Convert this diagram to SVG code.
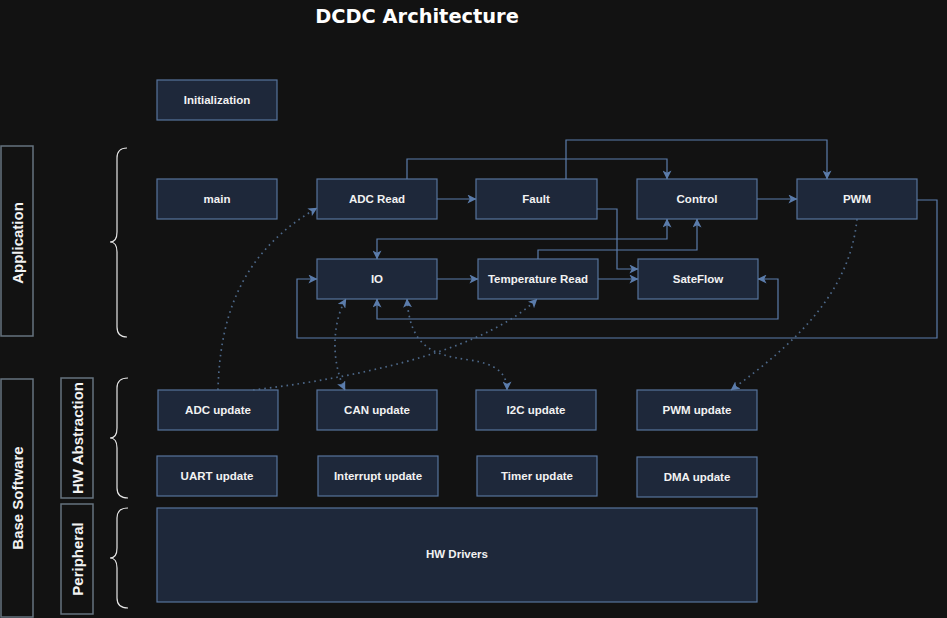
<svg xmlns="http://www.w3.org/2000/svg" width="947" height="618" viewBox="0 0 947 618">
<defs>
<marker id="arr" viewBox="0 0 10 10" refX="9.5" refY="5" markerWidth="9" markerHeight="9" markerUnits="userSpaceOnUse" orient="auto-start-reverse">
<path d="M0,0 L10,5 L0,10 L2.5,5 z" fill="#5b7cab"/>
</marker>
</defs>
<style>
.bg{fill:#121212}
.node rect{fill:#1e283a;stroke:#56739c;stroke-width:1.2}
.node text{fill:#f2f2f2;font-family:"Liberation Sans",Arial,sans-serif;font-size:11.5px;font-weight:bold;text-anchor:middle;dominant-baseline:central}
.lbl rect{fill:#121212;stroke:#66737f;stroke-width:1.5}
.lbl text{fill:#f2f2f2;font-family:"Liberation Sans",Arial,sans-serif;font-size:15px;font-weight:bold;text-anchor:middle;dominant-baseline:central}
.brace{fill:none;stroke:#e6e6e6;stroke-width:1.2}
.edge{fill:none;stroke:#5b7cab;stroke-width:1.2}
.dot{fill:none;stroke:#4d6889;stroke-width:1.7;stroke-dasharray:1.6 4}
.title{fill:#ffffff;font-family:"DejaVu Sans",Verdana,sans-serif;font-size:19.4px;font-weight:bold;text-anchor:middle}
</style>
<rect class="bg" x="0" y="0" width="947" height="618"/>
<text class="title" x="417" y="23">DCDC Architecture</text>

<g id="lbl-application" class="lbl"><rect x="1" y="146" width="32" height="190"/><text transform="translate(17,243) rotate(-90)">Application</text></g>
<g id="lbl-base" class="lbl"><rect x="1" y="379" width="32" height="238"/><text transform="translate(17,498) rotate(-90)">Base Software</text></g>
<g id="lbl-hwabs" class="lbl"><rect x="61" y="378" width="32" height="120"/><text transform="translate(77,438) rotate(-90)">HW Abstraction</text></g>
<g id="lbl-periph" class="lbl"><rect x="61" y="504" width="32" height="110"/><text transform="translate(77,559) rotate(-90)">Peripheral</text></g>

<g id="braces">
<path class="brace" d="M127,148 Q117,148 117,158 V232 Q117,242 110,242 Q117,242 117,252 V327 Q117,337 127,337"/>
<path class="brace" d="M128,378 Q117,378 117,388 V428 Q117,438 110,438 Q117,438 117,448 V488 Q117,498 128,498"/>
<path class="brace" d="M128,508 Q117,508 117,518 V548 Q117,558 110,558 Q117,558 117,568 V598 Q117,608 128,608"/>
</g>

<g id="n-init" class="node"><rect x="157" y="80" width="120" height="40"/><text x="217" y="100">Initialization</text></g>
<g id="n-main" class="node"><rect x="157" y="179" width="120" height="40"/><text x="217" y="199">main</text></g>
<g id="n-adcread" class="node"><rect x="317" y="179" width="120" height="40"/><text x="377" y="199">ADC Read</text></g>
<g id="n-fault" class="node"><rect x="476" y="179" width="121" height="40"/><text x="536" y="199">Fault</text></g>
<g id="n-control" class="node"><rect x="637" y="179" width="120" height="40"/><text x="697" y="199">Control</text></g>
<g id="n-pwm" class="node"><rect x="797" y="179" width="120" height="40"/><text x="857" y="199">PWM</text></g>
<g id="n-io" class="node"><rect x="317" y="259" width="120" height="40"/><text x="377" y="279">IO</text></g>
<g id="n-temp" class="node"><rect x="478" y="259" width="120" height="40"/><text x="538" y="279">Temperature Read</text></g>
<g id="n-sateflow" class="node"><rect x="638" y="259" width="120" height="40"/><text x="698" y="279">SateFlow</text></g>
<g id="n-adcupd" class="node"><rect x="158" y="390" width="120" height="40"/><text x="218" y="410">ADC update</text></g>
<g id="n-canupd" class="node"><rect x="317" y="390" width="120" height="40"/><text x="377" y="410">CAN update</text></g>
<g id="n-i2cupd" class="node"><rect x="476" y="390" width="120" height="40"/><text x="536" y="410">I2C update</text></g>
<g id="n-pwmupd" class="node"><rect x="637" y="390" width="120" height="40"/><text x="697" y="410">PWM update</text></g>
<g id="n-uart" class="node"><rect x="157" y="456" width="120" height="40"/><text x="217" y="476">UART update</text></g>
<g id="n-int" class="node"><rect x="318" y="456" width="120" height="40"/><text x="378" y="476">Interrupt update</text></g>
<g id="n-timer" class="node"><rect x="477" y="456" width="120" height="40"/><text x="537" y="476">Timer update</text></g>
<g id="n-dma" class="node"><rect x="637" y="457" width="120" height="40"/><text x="697" y="477">DMA update</text></g>
<g id="n-hwdrv" class="node"><rect x="157" y="508" width="600" height="94"/><text x="457" y="554">HW Drivers</text></g>

<g id="connectors">
<path class="edge" marker-end="url(#arr)" d="M437,199 H476"/>
<path class="edge" marker-end="url(#arr)" d="M407,179 V159 H667 V179"/>
<path class="edge" marker-end="url(#arr)" d="M566,179 V140 H827 V179"/>
<path class="edge" marker-end="url(#arr)" d="M757,199 H797"/>
<path class="edge" marker-end="url(#arr)" d="M597,209 H617 V269 H638"/>
<path class="edge" marker-end="url(#arr)" d="M598,279 H638"/>
<path class="edge" marker-end="url(#arr)" d="M437,279 H478"/>
<path class="edge" marker-start="url(#arr)" marker-end="url(#arr)" d="M667,219 V239 H377 V259"/>
<path class="edge" marker-end="url(#arr)" d="M538,259 V250 H697 V219"/>
<path class="edge" marker-start="url(#arr)" marker-end="url(#arr)" d="M377,299 V319 H778 V279 H758"/>
<path class="edge" marker-end="url(#arr)" d="M917,200 H937 V338 H297 V279 H317"/>

<path class="dot" marker-end="url(#arr)" d="M218,390 C220,310 245,250 317,208"/>
<path class="dot" marker-end="url(#arr)" d="M253,390 C380,375 490,345 537,299"/>
<path class="dot" marker-start="url(#arr)" marker-end="url(#arr)" d="M345,390 C330,360 333,320 346,299"/>
<path class="dot" marker-start="url(#arr)" marker-end="url(#arr)" d="M407,299 C410,345 430,355 470,360 C495,364 507,372 507,390"/>
<path class="dot" marker-end="url(#arr)" d="M857,219 C850,290 800,340 731,390"/>
</g>
</svg>
